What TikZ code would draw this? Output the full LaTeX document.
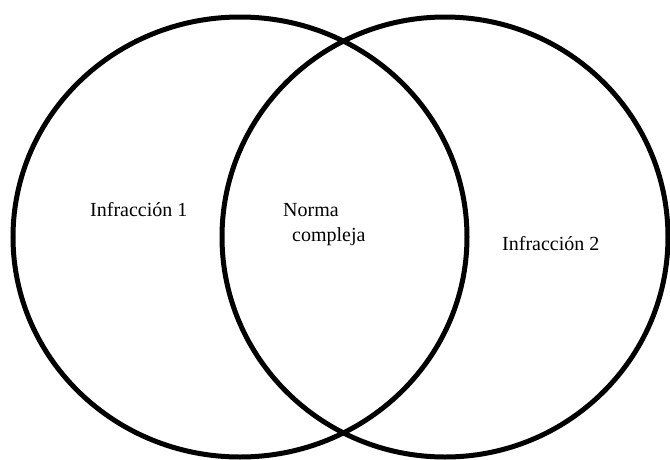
\documentclass[tikz,border=0pt]{standalone}
\usepackage{fontspec}
\setmainfont{Liberation Serif}

\begin{document}
\begin{tikzpicture}[x=1pt, y=-1pt,
    ring/.style={line width=5pt, black},
    lbl/.style={font=\fontsize{20}{25}\selectfont, inner sep=0pt, anchor=base west}]

    \useasboundingbox (0,0) rectangle (670,459);

    % draw the two sets
    \draw[ring] (240,237) ellipse [x radius=227, y radius=220];
    \draw[ring] (445,237) ellipse [x radius=223, y radius=220];

    % labels
    \node[lbl] (inf1) at (90,216) {Infracción 1};
    \node[lbl] (norma) at (283,216) {Norma};
    \node[lbl] (compleja) at (292,241) {compleja};
    \node[lbl] (inf2) at (502,250) {Infracción 2};
\end{tikzpicture}
\end{document}
